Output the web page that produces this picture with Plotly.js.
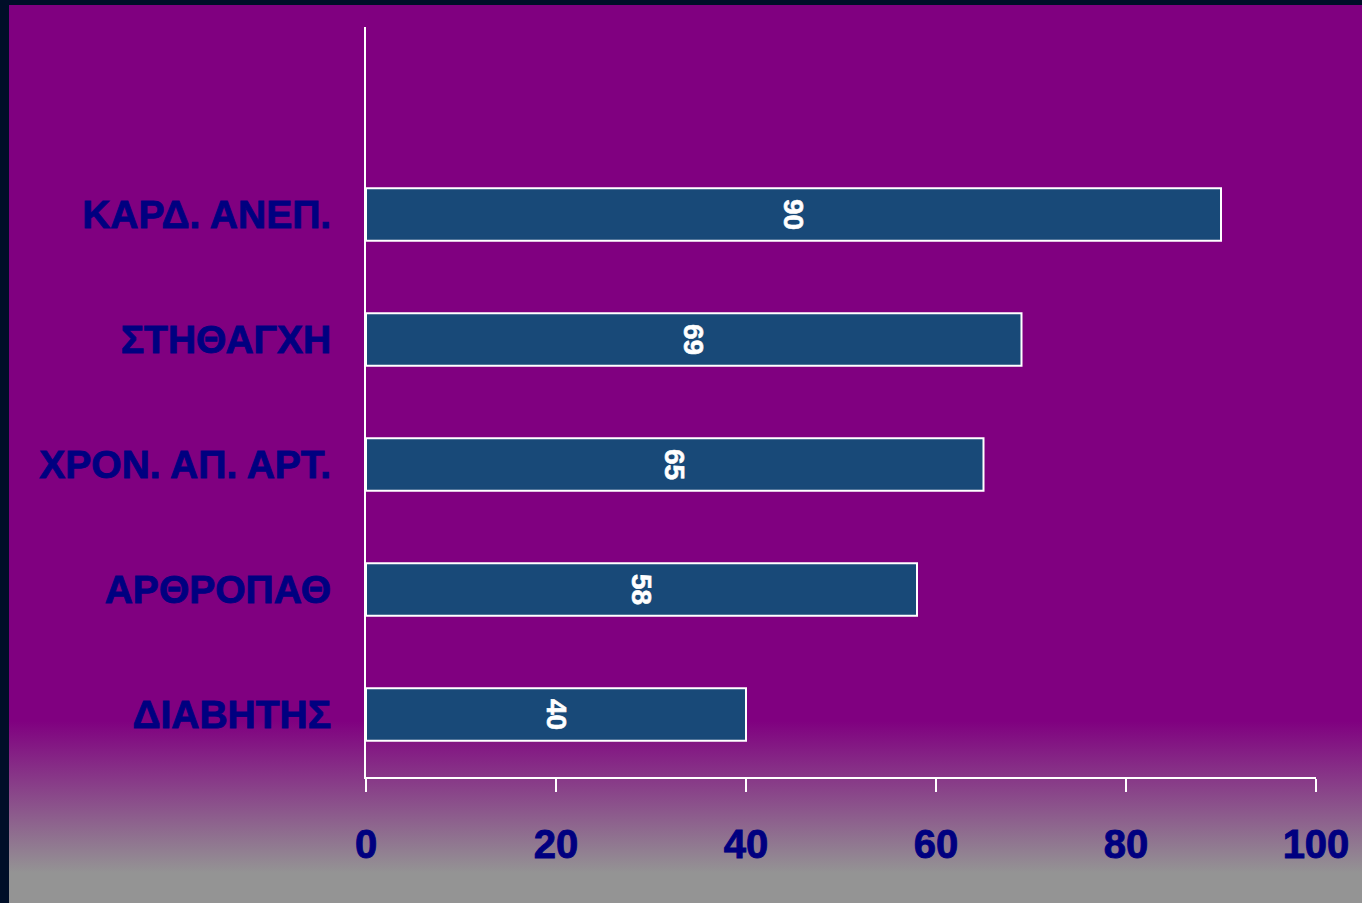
<!DOCTYPE html>
<html>
<head>
<meta charset="utf-8">
<script src="https://cdn.plot.ly/plotly-3.0.1.min.js"></script>
<style>
  html, body { margin: 0; padding: 0; width: 1362px; height: 903px; overflow: hidden; }
  #frame {
    position: absolute; left: 0; top: 0; width: 1362px; height: 903px;
    box-sizing: border-box;
    border-left: 9px solid #000e28;
    border-top: 5px solid #000e28;
    background: linear-gradient(to bottom, #800080 0px, #800080 716px, #949494 868px, #949494 100%);
  }
  #chart { position: absolute; left: 0; top: 0; width: 1362px; height: 903px; }
  /* heavier strokes for the bold labels */
  #chart .xtick text, #chart .ytick text { stroke: #000080; stroke-width: 0.9px; }
  #chart .bartext text, #chart text.bartext { stroke: #ffffff; stroke-width: 0.6px; }
</style>
</head>
<body>
<div id="frame"></div>
<div id="chart"></div>
<script>
// Conditions, listed bottom to top
const categories = ['ΔΙΑΒΗΤΗΣ', 'ΑΡΘΡΟΠΑΘ', 'ΧΡΟΝ. ΑΠ. ΑΡΤ.', 'ΣΤΗΘΑΓΧΗ', 'ΚΑΡΔ. ΑΝΕΠ.'];
const values = [40, 58, 65, 69, 90];
const xTicks = [0, 20, 40, 60, 80, 100];

const positions = categories.map((_, i) => i);

const trace = {
  type: 'bar',
  orientation: 'h',
  x: values,
  y: positions,
  width: 0.42,
  marker: { color: '#184978', line: { color: '#ffffff', width: 2 } },
  text: values.map(String),
  textposition: 'inside',
  insidetextanchor: 'middle',
  textangle: 90,
  textfont: { family: 'Liberation Sans, Arial, sans-serif', size: 28, color: '#ffffff', weight: 'bold' },
  hoverinfo: 'none',
  cliponaxis: false
};

const layout = {
  width: 1362,
  height: 903,
  margin: { l: 366, r: 46, t: 27, b: 126 },
  paper_bgcolor: 'rgba(0,0,0,0)',
  plot_bgcolor: 'rgba(0,0,0,0)',
  showlegend: false,
  font: { family: 'Liberation Sans, Arial, sans-serif', color: '#000080' },
  xaxis: {
    range: [0, 100],
    tickvals: xTicks,
    ticktext: xTicks.map(String),
    showgrid: false,
    zeroline: false,
    showline: true,
    linecolor: '#ffffff',
    linewidth: 2,
    ticks: 'outside',
    ticklen: 13,
    tickwidth: 2,
    tickcolor: '#ffffff',
    ticklabelstandoff: 18,
    tickfont: { size: 40, color: '#000080', weight: 'bold' },
    fixedrange: true
  },
  yaxis: {
    range: [-0.5, 5.5],
    tickvals: positions,
    ticktext: categories,
    showgrid: false,
    zeroline: false,
    showline: true,
    linecolor: '#ffffff',
    linewidth: 2,
    ticks: '',
    ticklabelstandoff: 25,
    tickfont: { size: 39, color: '#000080', weight: 'bold' },
    fixedrange: true
  }
};

Plotly.newPlot('chart', [trace], layout, { displayModeBar: false, staticPlot: true });
</script>
</body>
</html>
